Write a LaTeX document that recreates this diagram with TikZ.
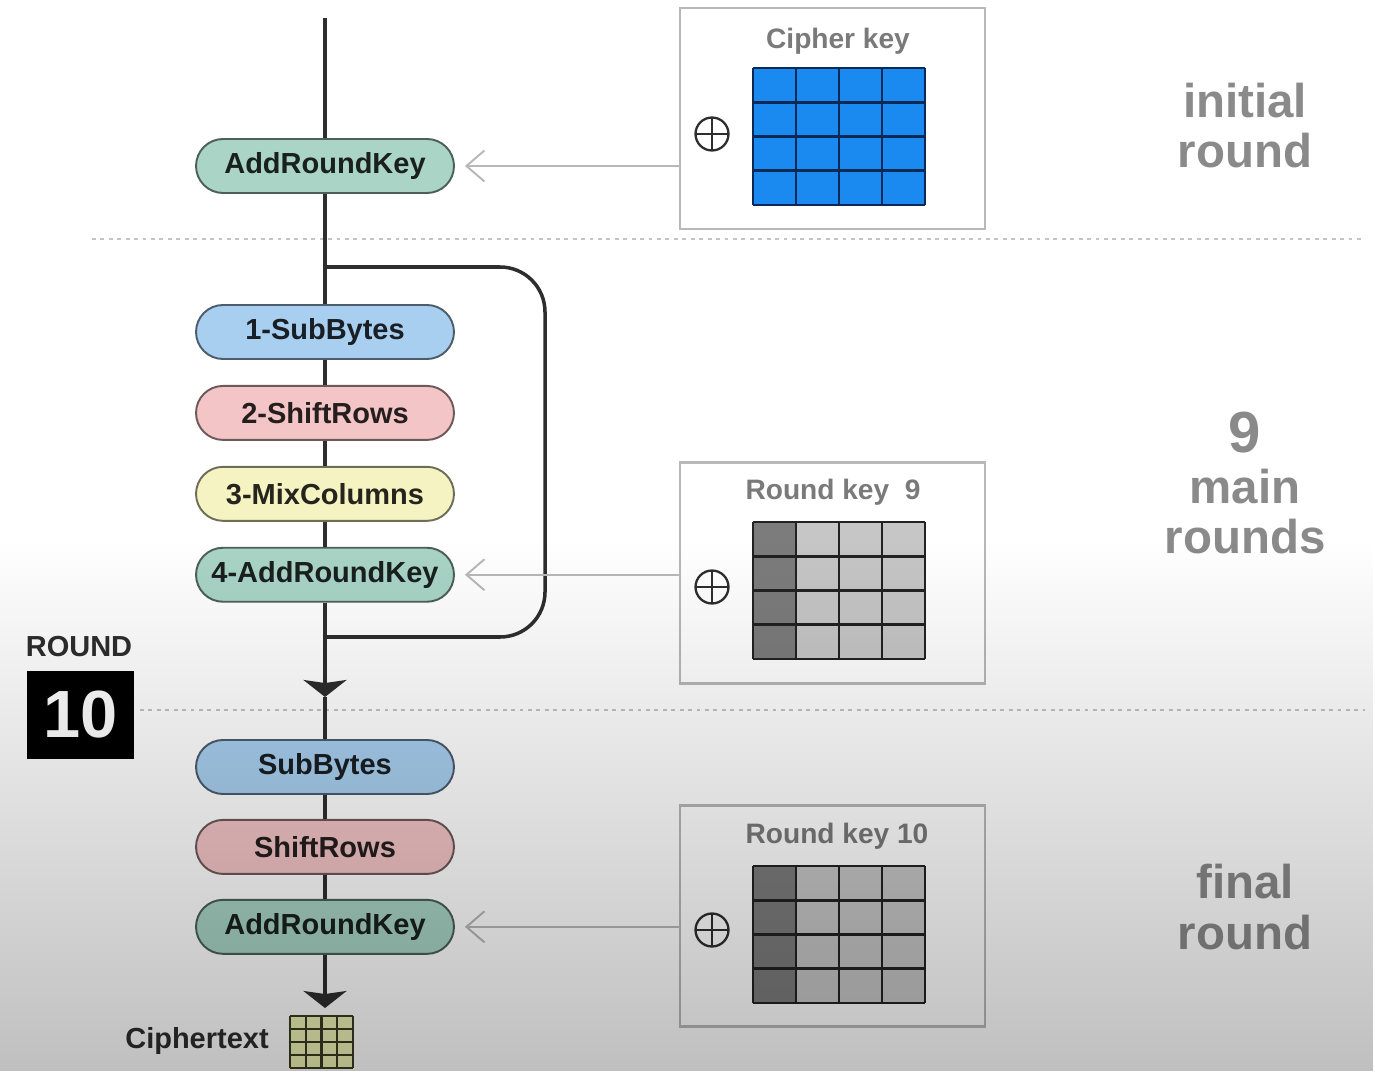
\documentclass[tikz,border=0pt]{standalone}
\usepackage{xcolor}
\usepackage{fontspec}
\setmainfont{Liberation Sans}
\usetikzlibrary{arrows.meta, positioning, fadings}

\definecolor{arkfill}{HTML}{A9D4C6}
\definecolor{subfill}{HTML}{A8CFF0}
\definecolor{shiftfill}{HTML}{F4C5C6}
\definecolor{mixfill}{HTML}{F4F3C1}
\definecolor{flowgray}{HTML}{2E2E2E}
\definecolor{boxgray}{HTML}{B8B8B8}
\definecolor{sepgray}{HTML}{C4C4C4}
\definecolor{labelgray}{HTML}{8A8A8A}
\definecolor{titlegray}{HTML}{7A7A7A}
\definecolor{keyblue}{HTML}{1A8AF0}
\definecolor{keyline}{HTML}{0A2A55}
\definecolor{darkcell}{HTML}{7C7C7C}
\definecolor{lightcell}{HTML}{C6C6C6}
\definecolor{cellline}{HTML}{222222}
\definecolor{cipherfill}{HTML}{EEF2B4}
\definecolor{cipherline}{HTML}{3A3A22}

\tikzfading[name=darken, top color=transparent!100, bottom color=transparent!0]

\begin{document}
\begin{tikzpicture}[
  x=0.02cm, y=-0.02cm,
  stage/.style={rectangle,draw=#1!45!black,fill=#1,rounded corners=0.54cm,line width=1.1pt,
    minimum width=5.16cm,minimum height=1.08cm,text=#1!15!black,
    font=\fontsize{16.5}{20}\selectfont\bfseries},
  keybox/.style={rectangle,draw=boxgray,line width=1.4pt,minimum width=6.1cm,minimum height=4.42cm},
  keytitle/.style={text=titlegray,font=\fontsize{16}{19}\selectfont\bfseries},
  xorsign/.style={circle,draw=flowgray,line width=1.3pt,minimum size=0.66cm,inner sep=0pt,
    path picture={\draw[flowgray,line width=1.3pt]
      (path picture bounding box.north) -- (path picture bounding box.south)
      (path picture bounding box.west) -- (path picture bounding box.east);}},
  phase/.style={align=center,text=labelgray,font=\fontsize{27}{28.5}\selectfont\bfseries},
  flow/.style={draw=flowgray,line width=2pt},
  flowtip/.style={-{Stealth[width=0.86cm,length=0.34cm,inset=0.06cm]}},
  keyarrow/.style={draw=boxgray,line width=1.1pt,-{Straight Barb[length=0.36cm,width=0.62cm]},shorten >=0.2cm},
  separator/.style={draw=sepgray,line width=1.2pt,dash pattern=on 2.2pt off 2.6pt}
]

\useasboundingbox (0,0) rectangle (1375,1071);
\fill[white] (0,0) rectangle (1375,1071);

\draw[separator] (92,239) -- (1365,239);
\draw[separator] (140,710) -- (1365,710);

\coordinate (top) at (325,18);
\coordinate (loopin) at (325,267);
\coordinate (loopout) at (325,637);
\coordinate (tipA) at (325,697);
\coordinate (tipB) at (325,1008);

\node[stage=arkfill] (ark0) at (325,166) {AddRoundKey};
\node[stage=subfill] (sb1) at (325,332) {1-SubBytes};
\node[stage=shiftfill,below=0.5cm of sb1] (sr1) {2-ShiftRows};
\node[stage=mixfill,below=0.5cm of sr1] (mc1) {3-MixColumns};
\node[stage=arkfill,below=0.5cm of mc1] (ark1) {4-AddRoundKey};
\node[stage=subfill] (sb2) at (325,767) {SubBytes};
\node[stage=shiftfill,below=0.48cm of sb2] (sr2) {ShiftRows};
\node[stage=arkfill,below=0.48cm of sr2] (ark2) {AddRoundKey};

\draw[flow] (top) -- (ark0);
\draw[flow] (ark0) -- (sb1);
\draw[flow] (sb1) -- (sr1);
\draw[flow] (sr1) -- (mc1);
\draw[flow] (mc1) -- (ark1);
\draw[flow] (ark1) -- (loopout);
\draw[flow,rounded corners=0.9cm] (loopin) -- ++(220,0) |- (loopout);
\draw[flow,flowtip] (loopout) -- (tipA);
\draw[flow] (tipA) -- (sb2);
\draw[flow] (sb2) -- (sr2);
\draw[flow] (sr2) -- (ark2);
\draw[flow,flowtip] (ark2) -- (tipB);

\node[keybox] (keyA) at (832.5,118.5) {};
\node[keybox] (keyB) at (832.5,573) {};
\node[keybox] (keyC) at (832.5,916) {};
\node[keytitle] (titleA) at (838,41) {Cipher key};
\node[keytitle] (titleB) at (833,492) {Round key\ \ 9};
\node[keytitle] (titleC) at (837,836) {Round key 10};

\foreach \by/\first/\rest/\rule in {68/keyblue/keyblue/keyline,522/darkcell/lightcell/cellline,866/darkcell/lightcell/cellline}{
  \fill[\rest] (753,\by) rectangle (925,\by+137);
  \fill[\first] (753,\by) rectangle (796,\by+137);
  \foreach \c in {0,...,4}
    \draw[\rule,line width=1.5pt] (753+43*\c,\by) -- ++(0,137);
  \foreach \r in {0,...,4}
    \draw[\rule,line width=1.5pt] (753,\by+34.25*\r) -- ++(172,0);
}

\node[xorsign] (xorA) at (712,134) {};
\node[xorsign] (xorB) at (712,587) {};
\node[xorsign] (xorC) at (712,930) {};

\draw[keyarrow] (keyA.west |- ark0) -- (ark0.east);
\draw[keyarrow] (keyB.west |- ark1) -- (ark1.east);
\draw[keyarrow] (keyC.west |- ark2) -- (ark2.east);

\node[phase] (initial) at (1245,126) {initial\\round};
\node[phase] (main) at (1245,483) {{\fontsize{33}{34}\selectfont 9}\\main\\rounds};
\node[phase] (final) at (1245,907) {final\\round};

\node[text=flowgray,font=\fontsize{16.5}{20}\selectfont\bfseries] (roundtag) at (79,647) {ROUND};
\node[fill=black,text=white,minimum width=2.14cm,minimum height=1.76cm,
  font=\fontsize{38}{40}\selectfont\bfseries] (roundnum) at (80.5,715) {10};

\node[text=flowgray,font=\fontsize{16.5}{20}\selectfont\bfseries] (ctext) at (197,1041) {Ciphertext};
\fill[cipherfill] (290,1016) rectangle (353,1068);
\foreach \c in {0,...,4}
  \draw[cipherline,line width=1.2pt] (290+15.75*\c,1016) -- ++(0,52);
\foreach \r in {0,...,4}
  \draw[cipherline,line width=1.2pt] (290,1016+13*\r) -- ++(63,0);

\fill[black,opacity=0.25,path fading=darken] (0,540) rectangle (1375,1071);

\end{tikzpicture}
\end{document}
